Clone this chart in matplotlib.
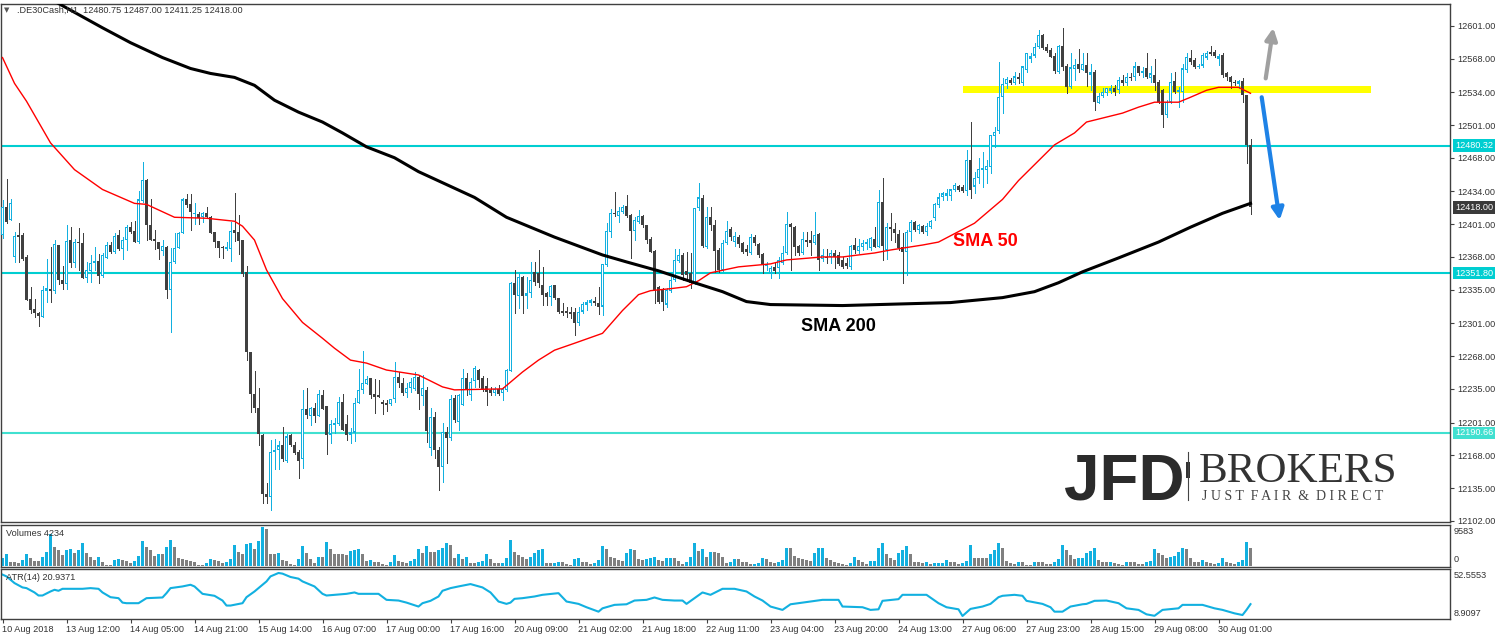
import numpy as np
import matplotlib.pyplot as plt
from matplotlib.patches import Rectangle
from matplotlib.lines import Line2D

plt.rcParams['font.family'] = ['Liberation Sans', 'DejaVu Sans']

# hourly DE30 candles, 10 Aug - 30 Aug 2018
opens = [12390, 12418, 12405, 12368, 12390, 12390, 12368, 12326, 12316, 12311,
         12307, 12334, 12336, 12334, 12380, 12345, 12341, 12385, 12362, 12383,
         12382, 12347, 12354, 12362, 12364, 12349, 12367, 12380, 12373, 12390,
         12376, 12385, 12398, 12394, 12383, 12424, 12446, 12400, 12386, 12383,
         12374, 12378, 12335, 12363, 12377, 12392, 12426, 12421, 12411, 12411,
         12408, 12412, 12408, 12393, 12384, 12378, 12376, 12376, 12395, 12393,
         12385, 12353, 12272, 12230, 12216, 12189, 12129, 12126, 12171, 12173,
         12178, 12162, 12189, 12178, 12171, 12164, 12215, 12208, 12216, 12208,
         12229, 12218, 12189, 12199, 12200, 12222, 12200, 12189, 12191, 12221,
         12234, 12240, 12246, 12230, 12229, 12222, 12221, 12220, 12225, 12247,
         12241, 12231, 12236, 12235, 12247, 12228, 12234, 12175, 12207, 12173,
         12156, 12192, 12185, 12226, 12202, 12219, 12246, 12229, 12243, 12254,
         12246, 12238, 12234, 12231, 12235, 12231, 12234, 12253, 12342, 12329,
         12348, 12329, 12332, 12353, 12352, 12340, 12332, 12328, 12340, 12327,
         12314, 12314, 12313, 12313, 12301, 12313, 12320, 12322, 12324, 12322,
         12318, 12360, 12393, 12412, 12409, 12413, 12419, 12410, 12394, 12403,
         12409, 12400, 12386, 12374, 12338, 12335, 12320, 12334, 12345, 12364,
         12370, 12354, 12352, 12342, 12417, 12427, 12378, 12408, 12400, 12375,
         12355, 12382, 12396, 12383, 12388, 12382, 12376, 12372, 12388, 12381,
         12371, 12359, 12352, 12358, 12357, 12362, 12372, 12401, 12398, 12379,
         12372, 12385, 12385, 12382, 12391, 12366, 12368, 12368, 12372, 12370,
         12365, 12362, 12358, 12380, 12374, 12378, 12381, 12377, 12386, 12378,
         12423, 12375, 12398, 12396, 12391, 12378, 12373, 12393, 12403, 12395,
         12399, 12393, 12398, 12407, 12420, 12428, 12429, 12429, 12435, 12440,
         12439, 12434, 12466, 12439, 12448, 12456, 12456, 12459, 12490, 12495,
         12529, 12542, 12546, 12543, 12549, 12543, 12556, 12568, 12571, 12580,
         12592, 12580, 12577, 12571, 12554, 12581, 12560, 12539, 12557, 12563,
         12556, 12562, 12551, 12554, 12523, 12530, 12533, 12535, 12538, 12536,
         12546, 12543, 12549, 12549, 12560, 12553, 12558, 12548, 12551, 12544,
         12536, 12511, 12524, 12545, 12534, 12534, 12556, 12569, 12567, 12559,
         12561, 12569, 12575, 12575, 12568, 12572, 12553, 12549, 12544, 12542,
         12545, 12531, 12480.75]
highs = [12425, 12447, 12426, 12393, 12402, 12392, 12370, 12338, 12326, 12313,
         12339, 12366, 12378, 12385, 12380, 12359, 12400, 12398, 12386, 12397,
         12392, 12363, 12370, 12378, 12371, 12372, 12383, 12383, 12392, 12395,
         12388, 12400, 12403, 12404, 12434, 12464, 12447, 12426, 12395, 12383,
         12385, 12379, 12377, 12392, 12393, 12427, 12431, 12431, 12422, 12413,
         12413, 12418, 12409, 12393, 12384, 12379, 12383, 12403, 12432, 12410,
         12385, 12359, 12272, 12253, 12236, 12190, 12140, 12183, 12184, 12182,
         12197, 12190, 12190, 12181, 12173, 12234, 12236, 12217, 12221, 12234,
         12234, 12218, 12204, 12206, 12227, 12230, 12209, 12196, 12226, 12255,
         12273, 12248, 12246, 12245, 12244, 12224, 12224, 12225, 12262, 12252,
         12246, 12241, 12246, 12252, 12249, 12249, 12237, 12216, 12212, 12176,
         12201, 12197, 12229, 12229, 12230, 12255, 12251, 12246, 12258, 12255,
         12248, 12246, 12237, 12237, 12239, 12237, 12255, 12343, 12355, 12352,
         12349, 12348, 12363, 12363, 12375, 12358, 12333, 12340, 12340, 12327,
         12322, 12318, 12318, 12317, 12318, 12323, 12325, 12326, 12328, 12338,
         12361, 12402, 12416, 12433, 12418, 12420, 12430, 12411, 12408, 12415,
         12410, 12400, 12388, 12375, 12339, 12337, 12337, 12348, 12376, 12376,
         12372, 12373, 12372, 12417, 12443, 12430, 12418, 12418, 12405, 12377,
         12385, 12404, 12398, 12393, 12390, 12383, 12380, 12391, 12390, 12382,
         12372, 12363, 12359, 12362, 12368, 12379, 12413, 12402, 12399, 12380,
         12393, 12393, 12394, 12413, 12392, 12376, 12376, 12375, 12375, 12373,
         12368, 12367, 12380, 12387, 12386, 12385, 12386, 12388, 12398, 12435,
         12448, 12402, 12412, 12402, 12395, 12392, 12395, 12405, 12404, 12401,
         12400, 12402, 12405, 12422, 12432, 12433, 12436, 12437, 12443, 12441,
         12441, 12476, 12504, 12454, 12468, 12474, 12466, 12491, 12499, 12565,
         12548, 12549, 12548, 12554, 12553, 12561, 12574, 12574, 12584, 12597,
         12593, 12583, 12579, 12574, 12582, 12599, 12563, 12574, 12568, 12578,
         12574, 12574, 12563, 12556, 12533, 12538, 12538, 12541, 12541, 12549,
         12551, 12553, 12553, 12565, 12561, 12559, 12574, 12561, 12568, 12546,
         12537, 12526, 12553, 12554, 12539, 12563, 12574, 12577, 12569, 12563,
         12574, 12576, 12581, 12577, 12573, 12574, 12554, 12550, 12546, 12546,
         12548, 12531, 12487.00]
lows = [12387, 12402, 12405, 12363, 12363, 12365, 12325, 12311, 12307, 12298,
        12307, 12323, 12323, 12332, 12341, 12336, 12336, 12358, 12358, 12355,
        12347, 12343, 12343, 12355, 12342, 12348, 12367, 12372, 12372, 12375,
        12366, 12375, 12392, 12383, 12382, 12423, 12385, 12385, 12376, 12366,
        12370, 12327, 12292, 12362, 12377, 12392, 12418, 12395, 12401, 12401,
        12403, 12407, 12392, 12378, 12368, 12367, 12375, 12364, 12384, 12371,
        12349, 12264, 12212, 12212, 12178, 12120, 12120, 12113, 12154, 12154,
        12162, 12161, 12177, 12169, 12145, 12155, 12206, 12199, 12202, 12208,
        12215, 12169, 12180, 12191, 12199, 12194, 12183, 12180, 12182, 12221,
        12231, 12240, 12226, 12211, 12227, 12210, 12213, 12219, 12222, 12237,
        12229, 12227, 12232, 12234, 12215, 12219, 12181, 12168, 12165, 12133,
        12141, 12160, 12183, 12202, 12194, 12219, 12229, 12224, 12237, 12237,
        12233, 12219, 12229, 12229, 12229, 12224, 12233, 12253, 12311, 12317,
        12311, 12317, 12328, 12340, 12338, 12320, 12320, 12320, 12326, 12311,
        12309, 12307, 12306, 12289, 12299, 12311, 12315, 12320, 12320, 12310,
        12309, 12359, 12388, 12409, 12403, 12412, 12408, 12367, 12385, 12402,
        12398, 12382, 12373, 12322, 12322, 12315, 12318, 12333, 12344, 12363,
        12345, 12345, 12337, 12341, 12415, 12378, 12377, 12395, 12353, 12353,
        12354, 12381, 12385, 12379, 12378, 12372, 12370, 12371, 12380, 12368,
        12352, 12355, 12347, 12352, 12347, 12361, 12371, 12355, 12370, 12370,
        12371, 12379, 12370, 12381, 12355, 12364, 12362, 12362, 12357, 12360,
        12357, 12357, 12356, 12372, 12372, 12375, 12376, 12375, 12378, 12378,
        12365, 12366, 12385, 12383, 12375, 12342, 12350, 12384, 12394, 12392,
        12392, 12390, 12397, 12405, 12418, 12425, 12425, 12425, 12434, 12434,
        12433, 12430, 12427, 12432, 12443, 12439, 12443, 12453, 12479, 12493,
        12513, 12538, 12542, 12542, 12543, 12541, 12554, 12565, 12570, 12579,
        12578, 12575, 12570, 12553, 12553, 12556, 12533, 12538, 12546, 12554,
        12556, 12540, 12536, 12516, 12523, 12529, 12531, 12533, 12531, 12533,
        12541, 12541, 12546, 12546, 12551, 12549, 12548, 12544, 12536, 12523,
        12499, 12509, 12523, 12533, 12519, 12524, 12554, 12563, 12558, 12558,
        12559, 12568, 12572, 12570, 12562, 12549, 12546, 12538, 12541, 12538,
        12524, 12463, 12411.25]
closes = [12418, 12403, 12422, 12389, 12388, 12366, 12325, 12315, 12311, 12308,
          12335, 12337, 12334, 12381, 12345, 12341, 12384, 12362, 12383, 12382,
          12347, 12355, 12362, 12364, 12349, 12370, 12380, 12373, 12389, 12376,
          12385, 12398, 12393, 12383, 12426, 12446, 12400, 12385, 12384, 12376,
          12379, 12335, 12363, 12377, 12392, 12426, 12420, 12413, 12412, 12407,
          12412, 12408, 12392, 12383, 12377, 12377, 12378, 12394, 12392, 12384,
          12351, 12272, 12230, 12216, 12190, 12129, 12126, 12171, 12173, 12178,
          12164, 12187, 12178, 12170, 12162, 12215, 12209, 12216, 12208, 12230,
          12215, 12189, 12200, 12201, 12222, 12194, 12189, 12192, 12221, 12234,
          12241, 12245, 12229, 12227, 12227, 12220, 12219, 12225, 12247, 12241,
          12231, 12236, 12242, 12247, 12230, 12236, 12193, 12207, 12173, 12156,
          12192, 12185, 12225, 12204, 12229, 12246, 12234, 12242, 12256, 12244,
          12234, 12232, 12231, 12235, 12230, 12235, 12254, 12342, 12330, 12348,
          12329, 12332, 12345, 12343, 12342, 12330, 12328, 12339, 12327, 12313,
          12311, 12311, 12310, 12301, 12313, 12321, 12323, 12325, 12322, 12318,
          12361, 12394, 12412, 12411, 12414, 12418, 12409, 12394, 12405, 12409,
          12400, 12385, 12373, 12335, 12323, 12323, 12335, 12345, 12365, 12370,
          12350, 12350, 12342, 12417, 12428, 12379, 12408, 12400, 12374, 12355,
          12382, 12394, 12388, 12389, 12381, 12373, 12373, 12388, 12382, 12370,
          12361, 12361, 12357, 12354, 12365, 12372, 12401, 12398, 12378, 12372,
          12386, 12383, 12382, 12390, 12365, 12370, 12367, 12372, 12368, 12361,
          12358, 12359, 12379, 12375, 12379, 12382, 12383, 12387, 12378, 12423,
          12379, 12398, 12396, 12392, 12377, 12373, 12393, 12403, 12395, 12400,
          12393, 12399, 12404, 12421, 12428, 12432, 12432, 12436, 12441, 12435,
          12434, 12466, 12435, 12448, 12457, 12458, 12460, 12491, 12494, 12529,
          12542, 12547, 12543, 12550, 12547, 12560, 12574, 12571, 12580, 12592,
          12579, 12576, 12570, 12555, 12581, 12559, 12539, 12559, 12562, 12557,
          12563, 12553, 12554, 12524, 12530, 12534, 12538, 12538, 12534, 12546,
          12543, 12549, 12548, 12560, 12553, 12555, 12549, 12553, 12543, 12524,
          12511, 12524, 12544, 12534, 12536, 12558, 12570, 12565, 12559, 12561,
          12572, 12574, 12573, 12571, 12571, 12551, 12549, 12544, 12543, 12545,
          12531, 12480.75, 12418.00]

volumes = [1800, 2870, 980, 820, 570, 1390, 2870, 1800, 1150, 1140,
           2210, 3440, 7790, 4510, 3850, 2620, 3850, 4100, 3030, 3850,
           5490, 3030, 2210, 1390, 2050, 980, 160, 160, 1390, 1560,
           1390, 1150, 740, 1150, 2380, 6070, 4670, 3850, 2380, 2870,
           2860, 4670, 6310, 4670, 1800, 1640, 1390, 1150, 980, 250,
           240, 740, 1640, 1390, 1150, 570, 980, 1640, 5080, 3440,
           2790, 5330, 5490, 4100, 6150, 9583, 9020, 2870, 2860, 3030,
           1390, 1150, 330, 160, 1560, 4840, 3030, 1560, 740, 2050,
           2040, 5820, 4020, 2900, 2870, 2840, 2620, 3610, 3850, 4020,
           2790, 1230, 1390, 980, 970, 330, 160, 980, 2620, 1150,
           900, 740, 1230, 1560, 4100, 3030, 4840, 3440, 3430, 3850,
           4260, 5490, 5080, 1800, 2870, 1560, 2210, 740, 570, 980,
           1230, 2870, 1560, 740, 570,
           740, 1800, 6310, 3440, 2620, 2210, 1560, 2210, 3200, 3850,
           4100, 570, 560, 740, 980, 970, 330, 250, 1560, 1970,
           900, 820, 330, 740, 1390, 4840, 4100, 2210, 1800, 1390,
           1230, 3030, 4020, 3850, 1560, 1390, 1560, 1800, 2210, 1390,
           1150, 1800, 1970, 1960, 1150, 490, 980, 2210, 5490, 3690,
           4020, 2210, 3440, 3280, 3030, 2210, 740, 980, 1560, 1550,
           980, 820, 330, 410, 660, 1800, 1560, 980, 570, 980,
           1390, 4260, 4250, 2380, 1800, 1560, 1390, 1230, 3030, 4260,
           4430, 1800, 1390, 980, 570, 330, 250, 740, 2210, 1390,
           900, 330, 1150, 1230, 4260, 5490, 2870, 1800, 1390, 3200,
           3850, 4840, 2870, 820, 810, 740, 900, 490, 570, 660,
           740, 1390, 980, 900, 330, 740, 1150, 5080, 1970, 1960,
           1800, 1790, 2790, 3850, 5490,
           4260, 1230, 740, 490, 900, 890, 250, 240, 900, 890,
           880, 490, 330, 820, 1560, 5080, 3850, 2620, 1560, 1800,
           1970, 3030, 3610, 4260, 1390, 980, 820, 900, 660, 330,
           250, 900, 890, 880, 490, 330, 900, 1230, 4100, 3030,
           2620, 1970, 2050, 2380, 3440, 4260, 4100, 1800, 980, 820,
           1390, 980, 570, 330, 740, 1800, 900, 740, 490, 980,
           1390, 5820, 4234]

sma50_bar = [0, 3, 6, 12, 18, 25, 33, 36, 43, 51, 58, 60, 63, 66, 70, 75, 80, 83, 87, 91,
             96, 104, 110, 113, 125, 130, 134, 138, 143, 150, 155, 159, 162, 167, 171, 174,
             177, 184, 192, 196, 205, 210, 218, 222, 230, 234, 243, 250, 254, 260, 263, 268,
             271, 276, 280, 284, 288, 294, 297, 301, 304, 309, 312]
sma50_val = [12569, 12543, 12525, 12483, 12456, 12436, 12422, 12421, 12408, 12407,
             12404, 12399, 12385, 12355, 12326, 12302, 12286, 12276, 12264, 12261,
             12254, 12249, 12237, 12234, 12235, 12252, 12264, 12274, 12281, 12291,
             12314, 12330, 12334, 12336, 12338, 12344, 12352, 12358, 12361, 12365,
             12368, 12368, 12372, 12375, 12380, 12383, 12402, 12426, 12445, 12469,
             12481, 12493, 12504, 12509, 12513, 12519, 12524, 12524, 12529, 12536,
             12539, 12539, 12533]
sma200_bar = [12, 25, 32, 40, 47, 52, 58, 63, 68, 74, 80, 85, 91, 98, 104, 118, 126, 138,
              150, 156, 164, 173, 180, 186, 192, 210, 237, 250, 258, 264, 270, 279, 289,
              297, 305, 312]
sma200_val = [12628, 12599, 12584, 12569, 12558, 12553, 12549, 12541, 12526, 12514,
              12504, 12493, 12479, 12468, 12454, 12428, 12408, 12388, 12370, 12363,
              12354, 12342, 12333, 12323, 12320, 12319, 12322, 12327, 12333, 12342,
              12353, 12367, 12383, 12398, 12412, 12422]

atr_bar = [0, 1, 3, 5, 6, 8, 9, 10, 12, 13, 14, 15, 20, 22, 24, 25, 27, 29, 30, 31,
           34, 36, 40, 41, 42, 45, 47, 48, 50, 53, 55, 56, 57, 60, 61, 63, 64, 66, 67, 69,
           70, 72, 74, 75, 78, 80, 81, 86, 88, 89, 94, 96, 99, 101, 104, 105, 107, 109, 110, 112,
           114, 117, 120, 122, 124, 126, 127, 128, 130, 133, 135, 139, 141, 144, 146, 149, 150, 153,
           156, 158, 161, 163, 165, 168, 170, 171, 173, 175, 177, 180, 183, 186, 188, 190, 192, 195,
           197, 202, 205, 209, 210, 215, 217, 219, 220, 224, 225, 231, 234, 236, 239, 240, 242, 245,
           247, 249, 250, 253, 255, 256, 260, 262, 263, 265, 267, 270, 271, 273, 276, 279, 281, 284,
           286, 288, 290, 294, 295, 300, 303, 305, 308, 310, 311, 312]
atr_val = [50.9, 49.1, 42.3, 37.9, 37.2, 32.8, 29.7, 29.7, 33.8, 35.5, 34.5, 36.5, 36.5, 37.2,
           36.5, 32.8, 28.0, 27.0, 22.5, 21.9, 21.9, 27.0, 27.7, 32.1, 37.2, 38.9, 40.6, 38.9,
           31.4, 29.4, 24.6, 19.5, 19.5, 21.9, 28.0, 33.8, 37.2, 44.0, 49.1, 52.5553, 51.9, 48.5,
           46.8, 44.0, 38.9, 31.4, 29.7, 31.4, 32.8, 31.4, 31.4, 25.3, 24.6, 22.5, 18.5, 21.9,
           24.3, 28.7, 34.5, 37.2, 38.9, 41.3, 37.9, 32.8, 23.6, 21.2, 22.5, 26.3, 27.0, 28.7,
           30.4, 32.1, 23.6, 21.2, 17.8, 13.3, 16.7, 20.2, 20.8, 24.6, 25.3, 27.7, 25.3, 24.6,
           24.6, 21.2, 27.0, 32.8, 30.4, 36.5, 36.5, 33.8, 28.7, 24.6, 18.5, 15.1, 20.8, 23.6,
           25.3, 25.3, 18.5, 17.8, 15.1, 15.7, 24.3, 26.0, 30.4, 30.4, 21.9, 17.8, 15.7, 8.9097,
           16.1, 18.5, 21.2, 28.0, 29.4, 30.4, 29.4, 24.3, 21.2, 17.8, 13.3, 13.3, 18.5, 20.8,
           21.2, 24.3, 24.6, 21.9, 16.7, 15.1, 10.6, 9.1, 15.1, 16.7, 20.2, 20.2, 16.7, 15.1,
           11.6, 9.9, 15.1, 20.9371]

price_ticks = [12601, 12568, 12534, 12501, 12468, 12434, 12401, 12368, 12335, 12301,
               12268, 12235, 12201, 12168, 12135, 12102]
level_lines = [12480.32, 12351.80, 12190.66]
band_low, band_high = 12533.3, 12540.3
date_labels = ['10 Aug 2018', '13 Aug 12:00', '14 Aug 05:00', '14 Aug 21:00', '15 Aug 14:00',
               '16 Aug 07:00', '17 Aug 00:00', '17 Aug 16:00', '20 Aug 09:00', '21 Aug 02:00',
               '21 Aug 18:00', '22 Aug 11:00', '23 Aug 04:00', '23 Aug 20:00', '24 Aug 13:00',
               '27 Aug 06:00', '27 Aug 23:00', '28 Aug 15:00', '29 Aug 08:00', '30 Aug 01:00']
header = '.DE30Cash,H1  12480.75 12487.00 12411.25 12418.00'

W, H = 1495, 637
fig = plt.figure(figsize=(W / 100, H / 100), dpi=100, facecolor='white')


def box(x0, y0, x1, y1):
    return fig.add_axes([x0 / W, 1 - y1 / H, (x1 - x0) / W, (y1 - y0) / H])


def ftext(px, py, s, **kw):
    return fig.text(px / W, 1 - py / H, s, **kw)


ax = box(1, 4, 1450, 522)
axv = box(1, 525, 1450, 567)
axa = box(1, 569, 1450, 619)

CYAN = '#12b0e0'
DARK = '#404040'
TXT = '#333333'
FS = 6.6

o, h, l, c = map(np.array, (opens, highs, lows, closes))
x = np.arange(len(c))
up = c >= o
lo = np.minimum(o, c)
hgt = np.maximum(np.abs(c - o), 1.0)

ax.add_patch(Rectangle((240, band_low), 102, band_high - band_low, color='#ffff00', lw=0, zorder=1))
for v, col in zip(level_lines, ['#00CED1', '#00CED1', '#40E0D0']):
    ax.axhline(v, color=col, lw=1.5, zorder=2)

ax.vlines(x[up], l[up], h[up], color=CYAN, lw=0.72, zorder=3, antialiased=False)
ax.vlines(x[~up], l[~up], h[~up], color=DARK, lw=0.72, zorder=3, antialiased=False)
ax.bar(x[up], hgt[up], bottom=lo[up], width=0.75, color=CYAN, lw=0, zorder=4, antialiased=False)
ax.bar(x[~up], hgt[~up], bottom=lo[~up], width=0.75, color=DARK, lw=0, zorder=4, antialiased=False)
# hollow centre of the bull bodies
tall = up & (hgt > 3)
ax.bar(x[tall], hgt[tall] - 2.2, bottom=lo[tall] + 1.1, width=0.25, color='white', lw=0, zorder=4.5,
       antialiased=False)

ax.plot(sma50_bar, sma50_val, color='red', lw=1, zorder=5)
ax.plot(sma200_bar, sma200_val, color='black', lw=2.2, zorder=5)

ax.text(245.75, 12384, 'SMA 50', color='red', fontsize=13, fontweight='bold', ha='center', va='center', zorder=6)
ax.text(209, 12298, 'SMA 200', color='black', fontsize=13, fontweight='bold', ha='center', va='center', zorder=6)

arrow = '-|>,head_length=0.7,head_width=0.35'
ax.annotate('', xy=(317.7, 12599), xytext=(315.8, 12548),
            arrowprops=dict(arrowstyle=arrow, color='#a0a0a0', lw=3, shrinkA=0, shrinkB=0), zorder=6)
ax.annotate('', xy=(319.3, 12405), xytext=(314.8, 12529),
            arrowprops=dict(arrowstyle=arrow, color='#1e82e6', lw=3, shrinkA=0, shrinkB=0), zorder=6)

# 4 px per bar, bar edges on whole pixels
for a in (ax, axv, axa):
    a.set_xlim(-0.375, 361.875)
    a.set_facecolor('white')
    for s in a.spines.values():
        s.set_color(DARK)
        s.set_linewidth(1)

ax.set_ylim(12100.8, 12623)
ax.yaxis.tick_right()
ax.set_yticks(price_ticks)
ax.set_yticklabels([f'{v:.2f}' for v in price_ticks])
ax.tick_params(axis='y', direction='out', length=3, width=0.8, color=DARK, labelcolor=TXT, labelsize=FS, pad=2)
ax.set_xticks([])

for v, col in [(12480.32, '#00CED1'), (closes[-1], '#3a3a3a'), (12351.80, '#00CED1'), (12190.66, '#40E0D0')]:
    ax.text(1.0035, v, f'{v:.2f}', transform=ax.get_yaxis_transform(), ha='left', va='center',
            fontsize=FS, color='white', zorder=10, clip_on=False,
            bbox=dict(boxstyle='square,pad=0.2', fc=col, ec='none'))

# volumes panel
vol = np.array(volumes)
vup = np.r_[True, vol[1:] > vol[:-1]]
axv.bar(x, vol, width=0.75, color=np.where(vup, CYAN, '#808080'), lw=0, antialiased=False)
axv.set_ylim(-320, 10000)
axv.set_xticks([])
axv.set_yticks([])

# ATR panel
axa.plot(atr_bar, atr_val, color=CYAN, lw=1.5)
axa.set_ylim(5.86, 56.6)
axa.set_yticks([])
axa.set_xticks(np.arange(len(date_labels)) * 16)
axa.set_xticklabels(date_labels, ha='left')
axa.tick_params(axis='x', direction='out', length=3, width=0.8, color=DARK, labelcolor=TXT, labelsize=FS, pad=1)

ftext(4, 10, '\u25bc', fontsize=5, color='#555555', va='center', family=['DejaVu Sans'])
ftext(17, 10, header, fontsize=FS, color=TXT, va='center')
ftext(6, 534, f'Volumes {volumes[-1]}', fontsize=FS, color=TXT, va='center')
ftext(6, 578, f'ATR(14) {atr_val[-1]:.4f}', fontsize=FS, color=TXT, va='center')
ftext(1454, 531, f'{max(volumes)}', fontsize=FS, color=TXT, va='center')
ftext(1454, 560, '0', fontsize=FS, color=TXT, va='center')
ftext(1454, 576, f'{max(atr_val):.4f}', fontsize=FS, color=TXT, va='center')
ftext(1454, 613, f'{min(atr_val):.4f}', fontsize=FS, color=TXT, va='center')

# logo
ftext(1064, 500, 'JFD', fontsize=46, fontweight='bold', color='#2b2b2b', va='baseline')
fig.add_artist(Line2D([1188 / W, 1188 / W], [1 - 452 / H, 1 - 500 / H], color='#444444', lw=0.8))
fig.add_artist(Rectangle((1186 / W, 1 - 478 / H), 4 / W, 16 / H, color='#333333', lw=0))
ftext(1199, 482, 'BROKERS', family='Liberation Serif', fontsize=31, color='#333333', va='baseline')
ftext(1202, 500, 'J U S T  F A I R  &  D I R E C T', family='Liberation Serif', fontsize=10,
      color='#444444', va='baseline')

fig.savefig('out.png', dpi=100, facecolor='white')
